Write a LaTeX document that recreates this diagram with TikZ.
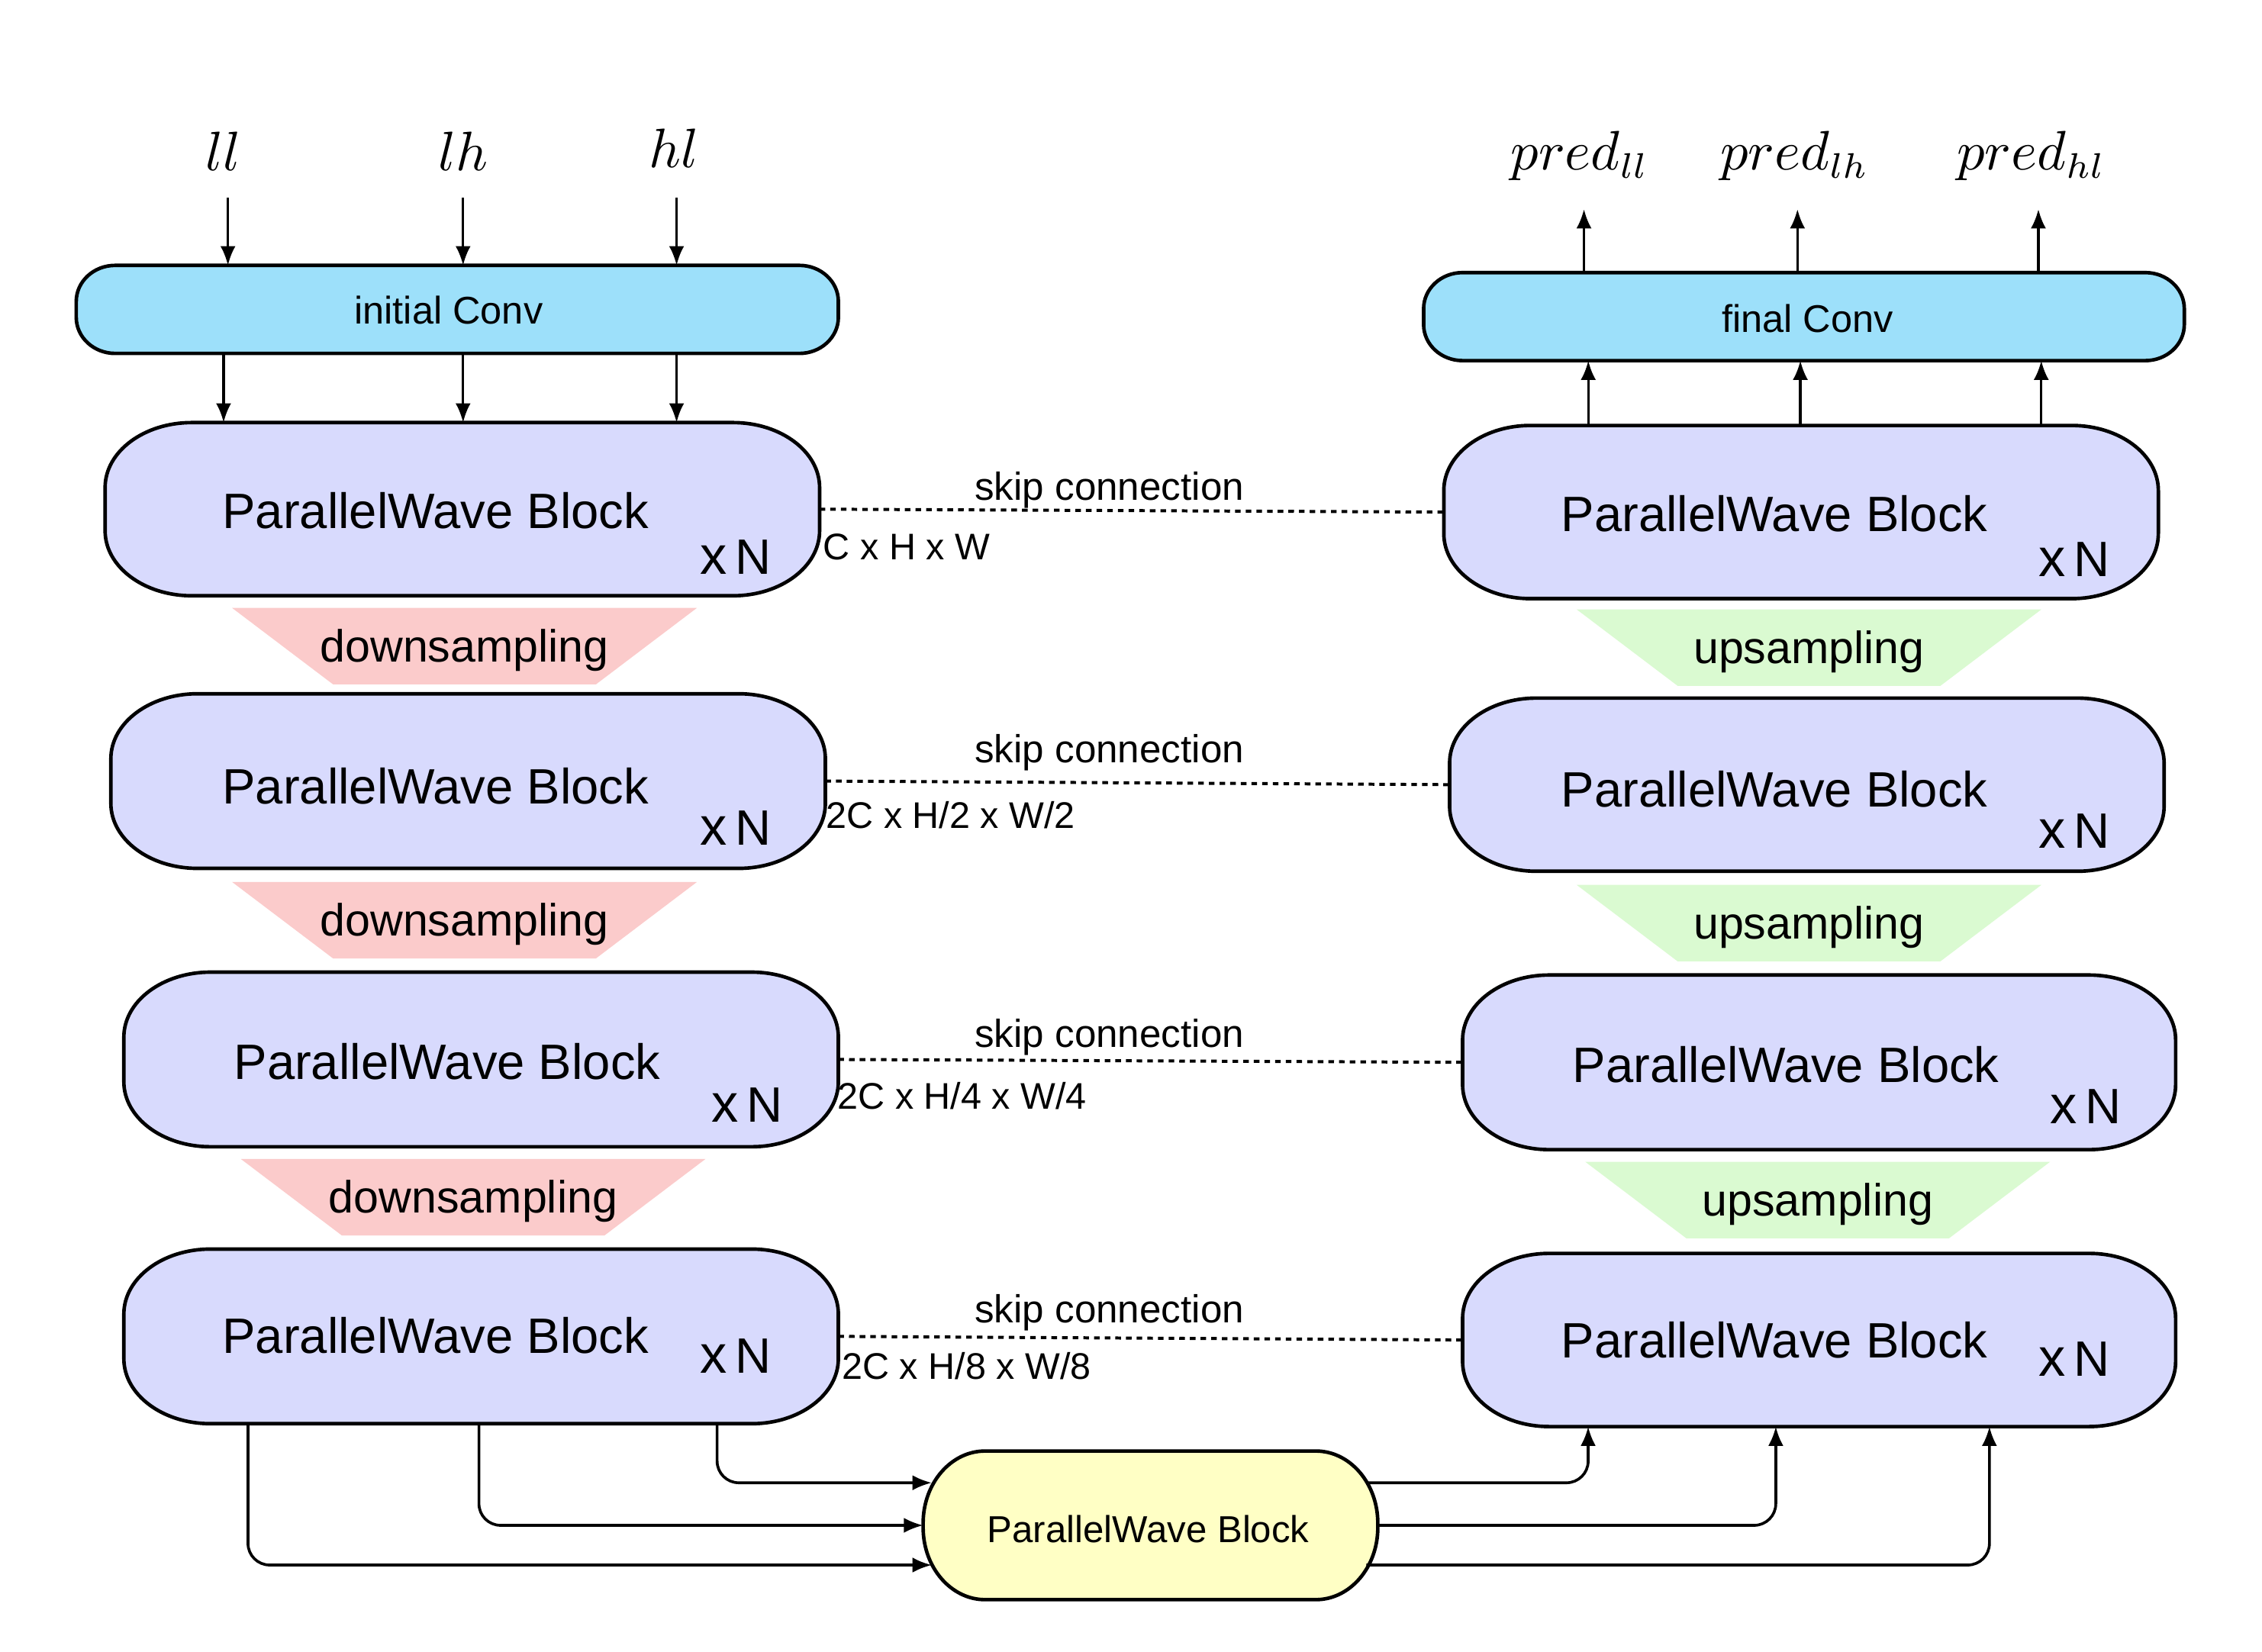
\documentclass[tikz,border=0pt]{standalone}
\usepackage{fontspec}
\setmainfont{Liberation Sans}
\usetikzlibrary{arrows.meta,backgrounds}
\definecolor{convblue}{HTML}{9DE0FA}
\definecolor{pwblue}{HTML}{D8DAFD}
\definecolor{downpink}{HTML}{FBCBCB}
\definecolor{upgreen}{HTML}{DAFAD1}
\definecolor{pwyellow}{HTML}{FFFFC5}
% rounded rectangle with elliptical corners: node, style, rx, ry
\newcommand\rrshape[4]{%
  \path[#2] ([xshift=#3]#1.north west) -- ([xshift=-#3]#1.north east)
    arc[start angle=90,end angle=0,x radius=#3,y radius=#4]
    -- ([yshift=#4]#1.south east)
    arc[start angle=0,end angle=-90,x radius=#3,y radius=#4]
    -- ([xshift=#3]#1.south west)
    arc[start angle=270,end angle=180,x radius=#3,y radius=#4]
    -- ([yshift=-#4]#1.north west)
    arc[start angle=180,end angle=90,x radius=#3,y radius=#4]
    -- cycle;}
\newcommand\trapshape[2]{%
  \fill[#2] ([shift={(-1.61cm,0.295cm)}]#1.center) -- ([shift={(1.61cm,0.295cm)}]#1.center)
    -- ([shift={(0.91cm,-0.235cm)}]#1.center) -- ([shift={(-0.91cm,-0.235cm)}]#1.center) -- cycle;}
\newcommand\xN{{\fontsize{10.6}{12}\selectfont x}\,N}
\begin{document}
\begin{tikzpicture}[x=0.01cm,y=-0.01cm,
  boxn/.style={inner sep=0pt, outer sep=0pt, draw=none},
  pwbox/.style={boxn, minimum width=4.95cm, minimum height=1.2cm},
  convbox/.style={boxn, minimum width=5.28cm, minimum height=0.61cm},
  pwtext/.style={inner sep=0pt, font=\fontsize{9.8}{11}\selectfont},
  xntext/.style={inner sep=0pt, font=\fontsize{9.8}{11}\selectfont},
  convtext/.style={inner sep=0pt, font=\fontsize{7.6}{9}\selectfont},
  samptext/.style={inner sep=0pt, font=\fontsize{8.9}{10}\selectfont},
  skiptext/.style={inner sep=0pt, font=\fontsize{7.7}{9}\selectfont},
  dimtext/.style={inner sep=0pt, anchor=west, font=\fontsize{7.3}{9}\selectfont},
  mathlbl/.style={inner sep=0pt, font=\fontsize{10.5}{12}\selectfont},
  pwdraw/.style={draw=black, line width=0.7pt, fill=pwblue},
  convdraw/.style={draw=black, line width=0.7pt, fill=convblue},
  yeldraw/.style={draw=black, line width=0.7pt, fill=pwyellow},
  arr/.style={line width=0.5pt, -{Latex[length=3.8pt,width=3pt]}},
  conn/.style={line width=0.55pt, rounded corners=0.15cm, -{Latex[length=3.8pt,width=3pt]}},
  skipline/.style={line width=0.6pt, dash pattern=on 1.1pt off 1pt}
]
\useasboundingbox (0,0) rectangle (1568,1145);

% ---------- boxes (nodes) ----------
\node[convbox] (IC) at (317,214.5) {};
\node[convtext] (ICt) at (311,215) {initial Conv};
\node[convbox, minimum width=5.27cm] (FC) at (1250.5,219.5) {};
\node[convtext] (FCt) at (1253,221) {final Conv};

\node[pwbox] (L1) at (320.5,353) {};
\node[pwbox, minimum height=1.21cm] (L2) at (324.5,541.5) {};
\node[pwbox, minimum height=1.21cm] (L3) at (333.5,734.5) {};
\node[pwbox, minimum height=1.21cm] (L4) at (333.5,926.5) {};
\node[pwbox] (R1) at (1248.5,355) {};
\node[pwbox] (R2) at (1252.5,544) {};
\node[pwbox, minimum width=4.94cm, minimum height=1.21cm] (R3) at (1261,736.5) {};
\node[pwbox, minimum width=4.94cm] (R4) at (1261,929) {};
\node[boxn, minimum width=3.15cm, minimum height=1.03cm] (Y) at (797.5,1057.5) {};

\node[pwtext] (L1t) at (302,354) {ParallelWave Block};
\node[pwtext] (L2t) at (302,545) {ParallelWave Block};
\node[pwtext] (L3t) at (310,736) {ParallelWave Block};
\node[pwtext] (L4t) at (302,926) {ParallelWave Block};
\node[pwtext] (R1t) at (1230,356) {ParallelWave Block};
\node[pwtext] (R2t) at (1230,547) {ParallelWave Block};
\node[pwtext] (R3t) at (1238,738) {ParallelWave Block};
\node[pwtext] (R4t) at (1230,929) {ParallelWave Block};
\node[convtext, font=\fontsize{7.4}{9}\selectfont] (Yt) at (796,1060) {ParallelWave Block};

\node[xntext] (L1n) at (510,386) {\xN};
\node[xntext] (L2n) at (510,574) {\xN};
\node[xntext] (L3n) at (518,766) {\xN};
\node[xntext] (L4n) at (510,940) {\xN};
\node[xntext] (R1n) at (1438,388) {\xN};
\node[xntext] (R2n) at (1438,576) {\xN};
\node[xntext] (R3n) at (1446,767) {\xN};
\node[xntext] (R4n) at (1438,942) {\xN};

% ---------- sampling ----------
\node[samptext] (D1) at (322,451) {downsampling};
\node[samptext] (D2) at (322,641) {downsampling};
\node[samptext] (D3) at (328,833) {downsampling};
\node[samptext] (U1) at (1254,452) {upsampling};
\node[samptext] (U2) at (1254,643) {upsampling};
\node[samptext] (U3) at (1260,835) {upsampling};

% ---------- labels ----------
\node[mathlbl] (ll) at (155,105) {$ll$};
\node[mathlbl] (lh) at (321,105) {$lh$};
\node[mathlbl] (hl) at (467,103) {$hl$};
\node[mathlbl] (pll) at (1095,108) {$pred_{ll}$};
\node[mathlbl] (plh) at (1244,108) {$pred_{lh}$};
\node[mathlbl] (phl) at (1408,108) {$pred_{hl}$};

% ---------- skip connections ----------
\draw[skipline] (L1.east) -- (R1.west);
\draw[skipline] (L2.east) -- (R2.west);
\draw[skipline] (L3.east) -- (R3.west);
\draw[skipline] (L4.east) -- (R4.west);
\node[skiptext] (S1) at (769,340) {skip connection};
\node[skiptext] (S2) at (769,522) {skip connection};
\node[skiptext] (S3) at (769,719) {skip connection};
\node[skiptext] (S4) at (769,910) {skip connection};
\node[dimtext] (d1) at (570,379) {C x H x W};
\node[dimtext] (d2) at (572,565) {2C x H/2 x W/2};
\node[dimtext] (d3) at (580,760) {2C x H/4 x W/4};
\node[dimtext] (d4) at (583,947) {2C x H/8 x W/8};

% ---------- top arrows ----------
\coordinate (in1) at (158,137);
\coordinate (in2) at (321,137);
\coordinate (in3) at (469,137);
\draw[arr] (in1) -- (in1 |- IC.north);
\draw[arr] (in2) -- (in2 |- IC.north);
\draw[arr] (in3) -- (in3 |- IC.north);
\coordinate (k1) at (155,0);
\coordinate (k2) at (321,0);
\coordinate (k3) at (469,0);
\draw[arr] (IC.south -| k1) -- (L1.north -| k1);
\draw[arr] (IC.south -| k2) -- (L1.north -| k2);
\draw[arr] (IC.south -| k3) -- (L1.north -| k3);
\coordinate (m1) at (1101,0);
\coordinate (m2) at (1248,0);
\coordinate (m3) at (1415,0);
\draw[arr] (R1.north -| m1) -- (FC.south -| m1);
\draw[arr] (R1.north -| m2) -- (FC.south -| m2);
\draw[arr] (R1.north -| m3) -- (FC.south -| m3);
\coordinate (o1) at (1098,145);
\coordinate (o2) at (1246,145);
\coordinate (o3) at (1413,145);
\draw[arr] (o1 |- FC.north) -- (o1);
\draw[arr] (o2 |- FC.north) -- (o2);
\draw[arr] (o3 |- FC.north) -- (o3);

% ---------- bottom connectors ----------
\draw[conn] ([xshift=4.11cm]L4.south west) |- ([xshift=0.06cm,yshift=0.295cm]Y.west);
\draw[conn] ([xshift=2.46cm]L4.south west) |- (Y.west);
\draw[conn] ([xshift=0.86cm]L4.south west) |- ([xshift=0.06cm,yshift=-0.275cm]Y.west);
\draw[conn] ([xshift=-0.08cm,yshift=0.295cm]Y.east) -| ([xshift=0.87cm]R4.south west);
\draw[conn] (Y.east) -| ([xshift=2.17cm]R4.south west);
\draw[conn] ([xshift=-0.08cm,yshift=-0.275cm]Y.east) -| ([xshift=3.65cm]R4.south west);

% ---------- shapes on background ----------
\begin{pgfonlayer}{background}
\rrshape{IC}{convdraw}{0.27cm}{0.25cm}
\rrshape{FC}{convdraw}{0.27cm}{0.25cm}
\rrshape{L1}{pwdraw}{0.6cm}{0.45cm}
\rrshape{L2}{pwdraw}{0.6cm}{0.45cm}
\rrshape{L3}{pwdraw}{0.6cm}{0.45cm}
\rrshape{L4}{pwdraw}{0.6cm}{0.45cm}
\rrshape{R1}{pwdraw}{0.6cm}{0.45cm}
\rrshape{R2}{pwdraw}{0.6cm}{0.45cm}
\rrshape{R3}{pwdraw}{0.6cm}{0.45cm}
\rrshape{R4}{pwdraw}{0.6cm}{0.45cm}
\rrshape{Y}{yeldraw}{0.43cm}{0.5cm}
\trapshape{D1}{downpink}
\trapshape{D2}{downpink}
\trapshape{D3}{downpink}
\trapshape{U1}{upgreen}
\trapshape{U2}{upgreen}
\trapshape{U3}{upgreen}
\end{pgfonlayer}
\end{tikzpicture}
\end{document}
